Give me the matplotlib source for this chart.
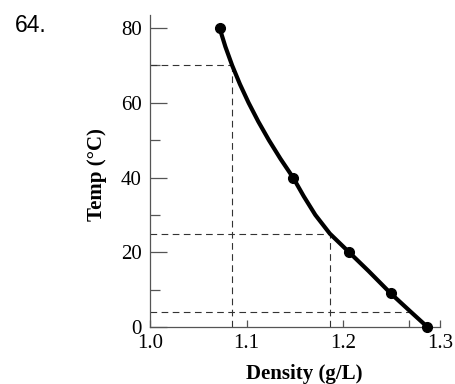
import matplotlib
matplotlib.use("Agg")
import matplotlib.pyplot as plt

# ---------------------------------------------------------------------------- #
# Data
# ---------------------------------------------------------------------------- #
point_density = [1.072, 1.148, 1.206, 1.249, 1.287]
point_temp = [80, 40, 20, 9, 0]

# points along the drawn curve
curve_density = [1.072, 1.078, 1.085, 1.093, 1.102, 1.112, 1.123, 1.135, 1.148,
                 1.159, 1.171, 1.186, 1.206, 1.226, 1.249, 1.270, 1.287]
curve_temp = [80, 75, 70, 65, 60, 55, 50, 45, 40, 35, 30, 25, 20, 15, 9, 4, 0]

# dashed read-off guides: (temperature, density where it meets the curve)
guide_temp = [70, 25, 4]
guide_density = [1.085, 1.186, 1.270]

x_ticks = [1.0, 1.1, 1.2, 1.3]
x_minor = [1.268]
y_ticks = [0, 20, 40, 60, 80]
y_minor = [10, 30, 50, 70]

# ---------------------------------------------------------------------------- #
# Figure
# ---------------------------------------------------------------------------- #
fig = plt.figure(figsize=(4.55, 3.84), dpi=100)
ax = fig.add_axes([150 / 455, 1 - 327 / 384, 290 / 455, 312 / 384])

serif = "Liberation Serif"

# guides
for t, d in zip(guide_temp, guide_density):
    ax.plot([1.0, d], [t, t], color="#333333", lw=0.8, dashes=(6, 4))
for t, d in zip(guide_temp[:2], guide_density[:2]):
    ax.plot([d, d], [0, t], color="#333333", lw=0.8, dashes=(6, 4))

ax.plot(curve_density, curve_temp, color="black", lw=3,
        solid_capstyle="round", solid_joinstyle="round")
ax.plot(point_density, point_temp, "o", color="black", ms=7, clip_on=False, zorder=5)

ax.set_xlim(1.0, 1.3)
ax.set_ylim(0, 83.5)

for s in ["top", "right"]:
    ax.spines[s].set_visible(False)
for s in ["left", "bottom"]:
    ax.spines[s].set_color("#555555")
    ax.spines[s].set_linewidth(0.9)

ax.set_xticks(x_ticks)
ax.set_xticks(x_minor, minor=True)
ax.set_yticks(y_ticks)
ax.set_yticks(y_minor, minor=True)
ax.set_xticklabels(["1.0", "1.1", "1.2", "1.3"], fontfamily=serif, fontsize=15)
ax.set_yticklabels([str(v) for v in y_ticks], fontfamily=serif, fontsize=15)

ax.tick_params(axis="y", which="major", direction="in", length=12, width=0.9, color="#555555", pad=6)
ax.tick_params(axis="y", which="minor", direction="in", length=7, width=0.9, color="#555555")
ax.tick_params(axis="x", which="both", direction="in", length=5, width=0.9, color="#555555", pad=5)

ax.set_xlabel("Density (g/L)", fontfamily=serif, fontweight="bold", fontsize=15)
ax.xaxis.set_label_coords(0.531, -0.118)
ax.set_ylabel("Temp (\u00b0C)", fontfamily=serif, fontweight="bold", fontsize=15)
ax.yaxis.set_label_coords(-0.148, 0.487)

fig.text(15 / 455, 1 - 32 / 384, "64.", fontfamily="Liberation Sans", fontsize=16.5, va="baseline")

plt.savefig("out.png", dpi=100)
